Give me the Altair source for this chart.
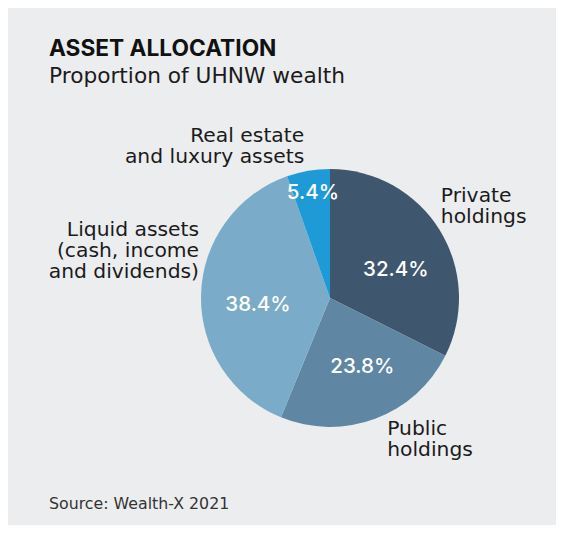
import altair as alt
import pandas as pd

# ---- data ----
categories = [
    "Private holdings",
    "Public holdings",
    "Liquid assets (cash, income and dividends)",
    "Real estate and luxury assets",
]
label_lines = [
    "Private\nholdings",
    "Public\nholdings",
    "Liquid assets\n(cash, income\nand dividends)",
    "Real estate\nand luxury assets",
]
shares = [32.4, 23.8, 38.4, 5.4]
colors = ["#3e566e", "#5f87a3", "#7aabc9", "#1e9bd7"]

title_text = "ASSET ALLOCATION"
subtitle_text = "Proportion of UHNW wealth"
source_text = "Source: Wealth-X 2021"

FONT = "DejaVu Sans"
FONT_BOLD = "Inter"
BG = "#ecedef"
INK = "#1b1b1b"

df = pd.DataFrame({"category": categories, "label": label_lines, "value": shares})

base = (
    alt.Chart(df)
    .transform_window(idx="row_number()")
    .transform_joinaggregate(total="sum(value)")
    .transform_window(cum="sum(value)", sort=[alt.SortField("idx")], frame=[None, 0])
    .transform_calculate(
        start="(datum.cum - datum.value) / datum.total",
        end="datum.cum / datum.total",
        mid="(datum.cum - datum.value / 2) / datum.total",
        pct="format(datum.value, '.1f') + '%'",
    )
)

theta_scale = alt.Scale(domain=[0, 1])

pie = base.mark_arc(outerRadius=129, strokeWidth=0).encode(
    theta=alt.Theta("start:Q", scale=theta_scale, stack=False),
    theta2="end:Q",
    color=alt.Color(
        "category:N",
        scale=alt.Scale(domain=categories, range=colors),
        legend=None,
    ),
)

# style offsets for labels (not data)
pct_style = {
    "Private holdings": dict(r=75, dx=2, dy=11),
    "Public holdings": dict(r=75, dx=6, dy=-1),
    "Liquid assets (cash, income and dividends)": dict(r=75, dx=3, dy=9),
    "Real estate and luxury assets": dict(r=107, dx=1, dy=0),
}
outer_style = {
    "Private holdings": dict(align="left", dx=1, dy=-28),
    "Public holdings": dict(align="left", dx=12, dy=16),
    "Liquid assets (cash, income and dividends)": dict(align="right", dx=-2, dy=-59),
    "Real estate and luxury assets": dict(align="right", dx=-4, dy=-29),
}

layers = [pie]
for cat in categories:
    s = pct_style[cat]
    layers.append(
        base.transform_filter(alt.datum.category == cat)
        .mark_text(
            font=FONT_BOLD, fontSize=20.5, fontWeight=500, color="white",
            align="center", baseline="middle", dx=s["dx"], dy=s["dy"],
        )
        .encode(
            theta=alt.Theta("mid:Q", scale=theta_scale, stack=False),
            radius=alt.value(s["r"]),
            text="pct:N",
        )
    )
    o = outer_style[cat]
    layers.append(
        base.transform_filter(alt.datum.category == cat)
        .mark_text(
            font=FONT, fontSize=20.3, color=INK, lineBreak="\n", lineHeight=21,
            align=o["align"], baseline="alphabetic", dx=o["dx"], dy=o["dy"],
        )
        .encode(
            theta=alt.Theta("mid:Q", scale=theta_scale, stack=False),
            radius=alt.value(129),
            text="label:N",
        )
    )

source = (
    alt.Chart(pd.DataFrame({"t": [source_text]}))
    .mark_text(font=FONT, fontSize=15.8, color="#333333", align="left", baseline="alphabetic")
    .encode(text="t:N", x=alt.value(-55), y=alt.value(409))
)
layers.append(source)

chart = (
    alt.layer(*layers)
    .properties(
        width=452,
        height=396,
        padding={"left": 96, "top": 92, "right": 0, "bottom": 29},
        autosize=alt.AutoSizeParams(type="none"),
        background=BG,
        title=alt.TitleParams(
            text=title_text,
            subtitle=subtitle_text,
            anchor="start",
            frame="group",
            dx=-55,
            offset=12,
            font=FONT_BOLD,
            fontSize=22.7,
            fontWeight="bold",
            color="#111111",
            subtitleFont=FONT,
            subtitleFontSize=21.7,
            subtitleColor=INK,
            subtitlePadding=6,
        ),
    )
    .configure_view(strokeWidth=0)
)

chart.save("out.html", embed_options={"renderer": "svg", "actions": False})
